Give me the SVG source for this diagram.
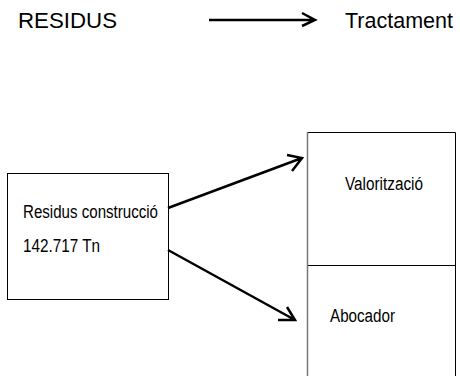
<svg xmlns="http://www.w3.org/2000/svg" width="460" height="376" viewBox="0 0 460 376">
<style>
.t{font-family:"Liberation Sans",Arial,sans-serif;fill:#000}
.big{font-size:22px}
.sm{font-size:18px}
.box{fill:#fff;stroke:#000;stroke-width:1}
.con{fill:none;stroke:#000;stroke-width:2.5;stroke-linecap:butt;stroke-linejoin:miter}
</style>
<rect width="460" height="376" fill="#fff"/>
<g id="legend-from"><text class="t big" x="18" y="28" textLength="99" lengthAdjust="spacingAndGlyphs">RESIDUS</text></g>
<g id="legend-to"><text class="t big" x="345" y="28" textLength="108" lengthAdjust="spacingAndGlyphs">Tractament</text></g>
<g id="source">
<rect class="box" x="7.5" y="173.5" width="161" height="126"/>
<text class="t sm" x="23" y="218" textLength="135" lengthAdjust="spacingAndGlyphs">Residus construcció</text>
<text class="t sm" x="23" y="252" textLength="77" lengthAdjust="spacingAndGlyphs">142.717 Tn</text>
</g>
<g id="valoritzacio">
<path d="M307.5 265V132.5H455.5V265" fill="none" stroke="#000" stroke-width="1"/>
<line x1="307.5" y1="132" x2="307.5" y2="265" stroke="#777" stroke-width="1.5"/>
<text class="t sm" x="345" y="190" textLength="78" lengthAdjust="spacingAndGlyphs">Valorització</text>
</g>
<g id="abocador">
<line x1="307.5" y1="265.5" x2="455.5" y2="265.5" stroke="#000" stroke-width="1"/>
<line x1="307.5" y1="265" x2="307.5" y2="376" stroke="#777" stroke-width="1.5"/>
<line x1="455.5" y1="265" x2="455.5" y2="376" stroke="#000" stroke-width="1"/>
<text class="t sm" x="330" y="322" textLength="65" lengthAdjust="spacingAndGlyphs">Abocador</text>
</g>
<g id="connectors">
<path class="con" d="M209 20H315M302 13L315 20L302 26"/>
<path class="con" d="M168 208L302 158M287 155L302 158L292 171"/>
<path class="con" d="M168 250L295 320M278 320L295 320L287 307"/>
</g>
</svg>
